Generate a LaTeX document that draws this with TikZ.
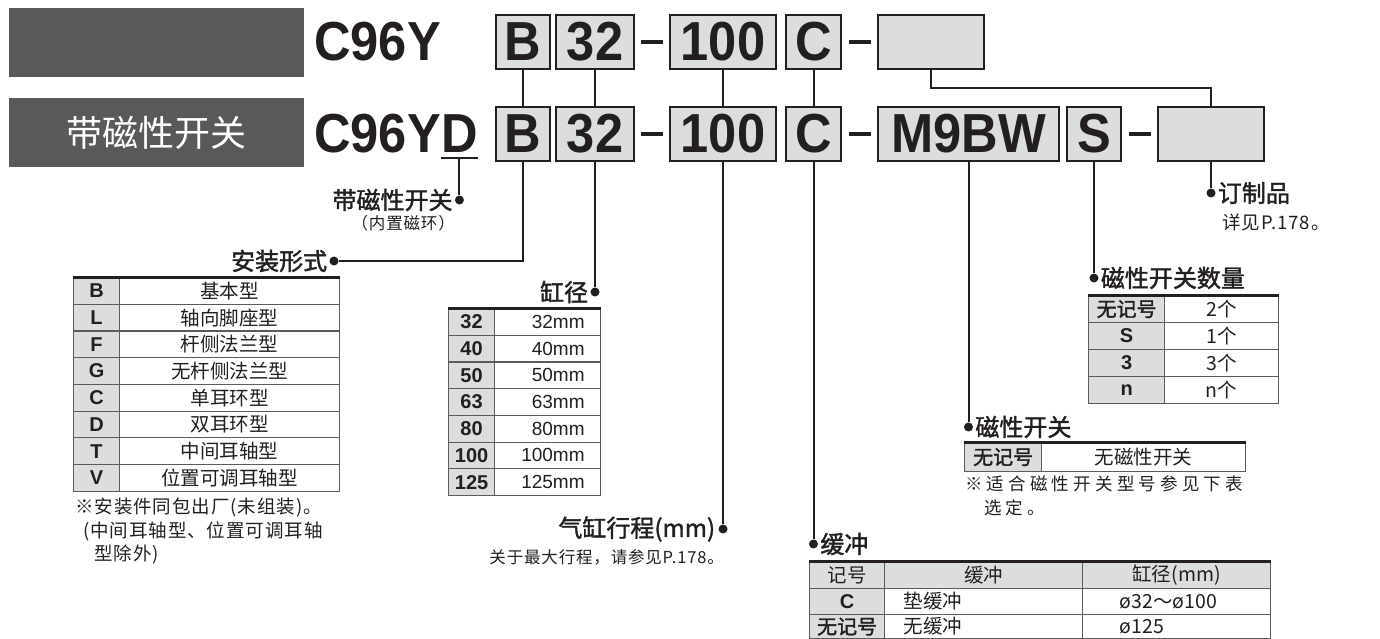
\documentclass[tikz,border=0pt]{standalone}
\usepackage{fontspec}
\setmainfont{Liberation Sans}
\newfontfamily\codefont[FakeStretch=0.92]{Liberation Sans}
\newfontfamily\cjk{Noto Sans CJK SC}
\newfontfamily\cjkmed[FakeBold=1.6]{Noto Sans CJK SC}
\newfontfamily\cjknote[LetterSpace=5]{Noto Sans CJK SC}
\newfontfamily\cjkwide[LetterSpace=24]{Noto Sans CJK SC}
\definecolor{ink}{HTML}{231F20}
\definecolor{boxgray}{HTML}{DCDDDF}
\definecolor{headgray}{HTML}{58595B}
\definecolor{rule}{HTML}{5A5B5D}
\tikzset{
  codebox/.style={draw=ink, line width=2pt, fill=boxgray, minimum height=54pt, inner sep=0pt, text=ink, font=\codefont\bfseries\fontsize{55}{60}\selectfont},
  codetext/.style={inner sep=0pt, text=ink, font=\codefont\bfseries\fontsize{55}{60}\selectfont},
  headbox/.style={fill=headgray, minimum width=295pt, minimum height=69pt, inner sep=0pt, text=white, font=\cjk\fontsize{36}{40}\selectfont},
  conn/.style={draw=ink, line width=2pt},
  dotnode/.style={circle, fill=ink, inner sep=0pt, minimum size=9pt},
  hyph/.style={fill=ink, inner sep=0pt, minimum width=22pt, minimum height=3.5pt},
  lbl/.style={inner sep=0pt, text=ink, font=\cjkmed\mdseries\fontsize{24}{28}\selectfont},
  note/.style={inner sep=0pt, text=ink, align=left, font=\cjknote\fontsize{18.5}{23.5}\selectfont},
  kcell/.style={draw=rule, line width=1.2pt, fill=boxgray, inner sep=0pt, anchor=north west, text=ink, font=\bfseries\fontsize{20}{24}\selectfont},
  vcell/.style={draw=rule, line width=1.2pt, fill=white, inner sep=0pt, anchor=north west, text=ink, font=\cjk\fontsize{19.5}{24}\selectfont},
  hcell/.style={draw=rule, line width=1.2pt, fill=boxgray, inner sep=0pt, anchor=north west, text=ink, font=\cjk\fontsize{19.5}{24}\selectfont},
  topline/.style={draw=ink, line width=3pt},
}
\newcommand\keycjk[1]{{\cjkmed\mdseries #1}}
\begin{document}
\begin{tikzpicture}[x=1pt, y=-1pt]
\useasboundingbox (0,0) rectangle (1380,639);
% header boxes
\node[headbox] (h1) at (156.5,42.5) {};
\node[headbox] (h2) at (156.5,132.5) {带磁性开关};
% model names
\node[codetext, anchor=west] (m1) at (314,42) {C96Y};
\node[codetext, anchor=west] (m2) at (314,134) {C96Y};
\node[codetext, anchor=west] (mD) at (m2.east) {D};
% code boxes row 1
\node[codebox, minimum width=54pt] (b1) at (523,42) {B};
\node[codebox, minimum width=78pt] (d1) at (595,42) {32};
\node[codebox, minimum width=106pt] (s1) at (723,42) {100};
\node[codebox, minimum width=55pt] (c1) at (813.5,42) {C};
\node[codebox, minimum width=106pt] (e1) at (931,42) {};
% code boxes row 2
\node[codebox, minimum width=54pt] (b2) at (523,134) {B};
\node[codebox, minimum width=78pt] (d2) at (595,134) {32};
\node[codebox, minimum width=106pt] (s2) at (723,134) {100};
\node[codebox, minimum width=55pt] (c2) at (813.5,134) {C};
\node[codebox, minimum width=181pt] (w2) at (968.5,134) {M9BW};
\node[codebox, minimum width=54pt] (n2) at (1094,134) {S};
\node[codebox, minimum width=106pt] (e2) at (1211,134) {};
% hyphens
\path (d1.east) -- (s1.west) node[midway, hyph] {};
\path (c1.east) -- (e1.west) node[midway, hyph] {};
\path (d2.east) -- (s2.west) node[midway, hyph] {};
\path (c2.east) -- (w2.west) node[midway, hyph] {};
\path (n2.east) -- (e2.west) node[midway, hyph] {};
% row links
\draw[conn] (b1) -- (b2);
\draw[conn] (d1) -- (d2);
\draw[conn] (s1) -- (s2);
\draw[conn] (c1) -- (c2);
\draw[conn] (e1.south) -- ++(0,18) -| (e2.north);
% D underline and label
\coordinate (uD) at ([yshift=-5pt]mD.south);
\draw[conn] ([yshift=-5pt]mD.south west) -- ([yshift=-5pt]mD.south east);
\node[dotnode] (dotD) at (uD |- 0,200) {};
\draw[conn] (uD) -- (dotD);
\node[lbl, anchor=east] (lD) at ([xshift=-2pt]dotD.west) {带磁性开关};
\node[note, anchor=east, font=\cjknote\fontsize{16.5}{20}\selectfont] (lD2) at (455,223) {（内置磁环）};
% mounting
\node[dotnode] (dotB) at (334,261) {};
\draw[conn] (b2.south) |- (dotB);
\node[lbl, anchor=east] (lB) at ([xshift=-2pt]dotB.west) {安装形式};
\foreach \k/\v [count=\i from 0] in {B/基本型,L/轴向脚座型,F/杆侧法兰型,G/无杆侧法兰型,C/单耳环型,D/双耳环型,T/中间耳轴型,V/位置可调耳轴型} {
  \node[kcell, minimum width=46pt, minimum height=26.7pt] (tbk\i) at (73,{277+26.7*\i}) {\k};
  \node[vcell, minimum width=220pt, minimum height=26.7pt] (tbv\i) at (119,{277+26.7*\i}) {\v};
}
\draw[topline] (tbk0.north west) -- (tbv0.north east);
\node[note, anchor=north west] (nB) at (75,498) {※安装件同包出厂(未组装)。\\\hspace*{8pt}(中间耳轴型、位置可调耳轴\\\hspace*{19pt}型除外)};
% bore
\node[dotnode] (dotd) at (595,292) {};
\draw[conn] (d2.south) -- (dotd);
\node[lbl, anchor=east] (ld) at ([xshift=-2pt]dotd.west) {缸径};
\foreach \k [count=\i from 0] in {32,40,50,63,80,100,125} {
  \node[kcell, minimum width=46pt, minimum height=26.7pt] (tdk\i) at (448,{308+26.7*\i}) {\k};
  \node[vcell, minimum width=106pt, minimum height=26.7pt, text width=74pt, align=right, font=\fontsize{19}{24}\selectfont] (tdv\i) at (494,{308+26.7*\i}) {\k mm};
}
\draw[topline] (tdk0.north west) -- (tdv0.north east);
% stroke
\node[dotnode] (dots) at (723,529) {};
\draw[conn] (s2.south) -- (dots);
\node[lbl, anchor=east] (ls) at ([xshift=-3pt]dots.west) {气缸行程(mm)};
\node[note, anchor=east, font=\cjknote\fontsize{16.5}{20}\selectfont] (ns) at (724,557) {关于最大行程，请参见P.178。};
% cushion
\node[dotnode] (dotc) at (813.5,544) {};
\draw[conn] (c2.south) -- (dotc);
\node[lbl, anchor=west] (lc) at ([xshift=2pt]dotc.east) {缓冲};
\node[hcell, minimum width=75pt, minimum height=27pt] (tc00) at (809,561) {记号};
\node[hcell, minimum width=198pt, minimum height=27pt] (tc01) at (884,561) {缓冲};
\node[hcell, minimum width=188pt, minimum height=27pt] (tc02) at (1082,561) {缸径(mm)};
\node[kcell, minimum width=75pt, minimum height=26pt] (tc10) at (809,588) {C};
\node[vcell, minimum width=198pt, minimum height=26pt, text width=160pt, align=left] (tc11) at (884,588) {垫缓冲};
\node[vcell, minimum width=188pt, minimum height=26pt, text width=114pt, align=left] (tc12) at (1082,588) {ø32～ø100};
\node[kcell, minimum width=75pt, minimum height=24pt] (tc20) at (809,614) {\keycjk{无记号}};
\node[vcell, minimum width=198pt, minimum height=24pt, text width=160pt, align=left] (tc21) at (884,614) {无缓冲};
\node[vcell, minimum width=188pt, minimum height=24pt, text width=114pt, align=left] (tc22) at (1082,614) {ø125};
\draw[topline] (tc00.north west) -- (tc02.north east);
% switch
\node[dotnode] (dotw) at (968.5,427) {};
\draw[conn] (w2.south) -- (dotw);
\node[lbl, anchor=west] (lw) at ([xshift=2pt]dotw.east) {磁性开关};
\node[kcell, minimum width=77pt, minimum height=29pt] (tw0) at (964,442) {\keycjk{无记号}};
\node[vcell, minimum width=204pt, minimum height=29pt] (tw1) at (1041,442) {无磁性开关};
\draw[topline] (tw0.north west) -- (tw1.north east);
\node[note, anchor=north west, font=\cjkwide\fontsize{17.5}{24}\selectfont] (nw) at (965,476) {※适合磁性开关型号参见下表\\\hspace*{19pt}选定。};
% number of switches
\node[dotnode] (dotn) at (1094,278) {};
\draw[conn] (n2.south) -- (dotn);
\node[lbl, anchor=west] (ln) at ([xshift=2pt]dotn.east) {磁性开关数量};
\foreach \k/\v [count=\i from 0] in {{\keycjk{无记号}}/2个,S/1个,3/3个,n/n个} {
  \node[kcell, minimum width=76pt, minimum height=27pt] (tnk\i) at (1088,{295+27*\i}) {\k};
  \node[vcell, minimum width=114pt, minimum height=27pt] (tnv\i) at (1164,{295+27*\i}) {\v};
}
\draw[topline] (tnk0.north west) -- (tnv0.north east);
% made to order
\node[dotnode] (dote) at (1211,193) {};
\draw[conn] (e2.south) -- (dote);
\node[lbl, anchor=west] (le) at ([xshift=2pt]dote.east) {订制品};
\node[note, anchor=west] (ne) at (1222,222) {详见P.178。};
\end{tikzpicture}
\end{document}
